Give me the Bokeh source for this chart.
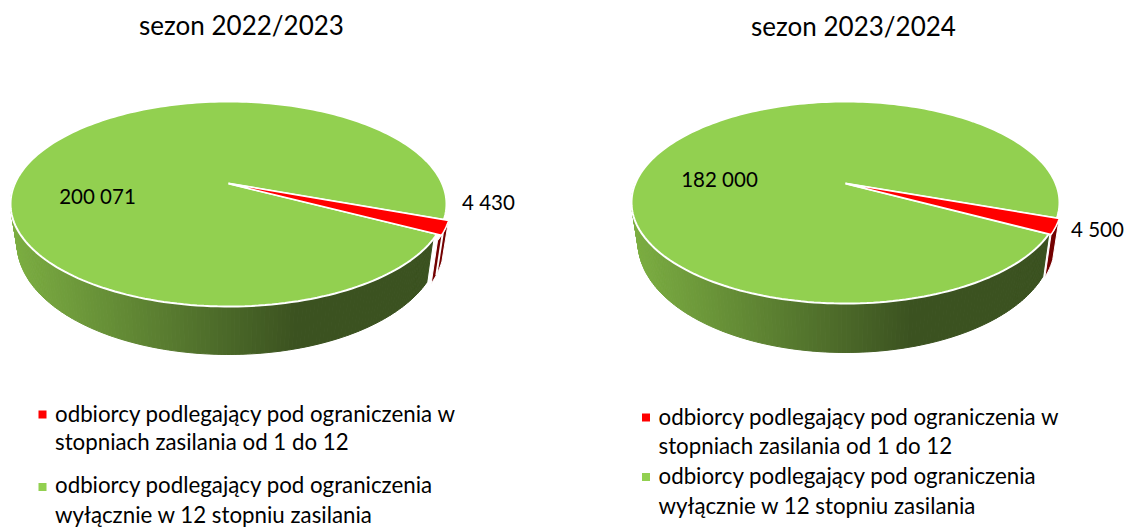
import math
from bokeh.plotting import figure
from bokeh.models import Range1d
from bokeh.core.properties import value
from bokeh.embed import file_html
from bokeh.resources import INLINE

# --- data ---
seasons = ["sezon 2022/2023", "sezon 2023/2024"]
restricted = [4430, 4500]
only_12 = [200071, 182000]
restricted_labels = ["4 430", "4 500"]
only_12_labels = ["200 071", "182 000"]
legend_a = ["odbiorcy podlegający pod ograniczenia w", "stopniach zasilania od 1 do 12"]
legend_b = ["odbiorcy podlegający pod ograniczenia", "wyłącznie w 12 stopniu zasilania"]

# --- styles / layout ---
GREEN, RED, DARK_RED = "#92D050", "#FF0000", "#730000"
FONT = value("Lato")
pies = [
    dict(cx=228, apex=183, left=10, top=101, bottom=306, d_side=37, d_front=48, start=20.0,
         explode=1.02, extra=3.0, split=True, title=(241, 24), big=(97, 195), small=(488, 201),
         mark_x=42, text_x=54.5, rows=[413, 441, 484, 514], marks=[414, 486.5]),
    dict(cx=845, apex=183, left=631, top=101, bottom=303, d_side=37, d_front=49, start=19.5,
         explode=1.01, extra=0.0, split=False, title=(853, 25), big=(719, 178), small=(1097, 228),
         mark_x=645.5, text_x=658, rows=[416, 445, 475, 505], marks=[417, 476.5]),
]

p = figure(width=1131, height=527, x_range=Range1d(0, 1131), y_range=Range1d(527, 0),
           output_backend="svg", toolbar_location=None, min_border=0)
p.axis.visible = False
p.grid.visible = False
p.outline_line_color = None
p.background_fill_color = "white"


def lerp_col(c0, c1, t):
    return "#%02x%02x%02x" % tuple(round(a + (b - a) * t) for a, b in zip(c0, c1))


def add_text(x, y, s, size, align="left"):
    p.text([x], [y], text=[s], text_font=FONT, text_font_size=f"{size}px",
           text_color="#000000", text_baseline="middle", text_align=align)


for i, g in enumerate(pies):
    cx, cy = g["cx"], g["apex"]
    far, near = cy - g["top"], g["bottom"] - cy
    a = (far - near) / (far + near)          # perspective of the disc
    B = far * (1 - a)
    rx = cx - g["left"]
    A = rx * math.sqrt(1 - a * a)

    def top(th, r=1.0):
        u, v = r * math.cos(th), r * math.sin(th)
        w = 1 + a * v
        return cx + A * u / w, cy + B * v / w

    def low(th, r=1.0):
        x, y = top(th, r)
        d = g["d_side"] + (g["d_front"] - g["d_side"]) * max(0.0, math.sin(th))
        return cx + 0.97 * (x - cx), y + d

    total = restricted[i] + only_12[i]
    t0 = math.radians(g["start"])
    t1 = t0 + 2 * math.pi * restricted[i] / total
    t_wall = t1 + math.radians(g["extra"])
    e = g["explode"]

    # green outer wall, shaded across its width
    xs, ys, cols = [], [], []
    n = 160
    c_l, c_d = (124, 174, 66), (59, 82, 32)
    x_dark = g["left"] + 2 * rx * 0.66
    for k in range(n):
        th_a = t_wall + (math.pi - t_wall) * k / n
        th_b = t_wall + (math.pi - t_wall) * (k + 1) / n
        pa, pb, qa, qb = top(th_a), top(th_b), low(th_a), low(th_b)
        xs.append([pa[0], pb[0], qb[0], qa[0]])
        ys.append([pa[1], pb[1], qb[1], qa[1]])
        cols.append(lerp_col(c_l, c_d, min(1, max(0, (pa[0] - g["left"]) / (x_dark - g["left"])))))
    p.patches(xs, ys, fill_color=cols, line_color=cols, line_width=1)

    # red outer wall
    ths = [t0 + (t_wall - t0) * k / 12 for k in range(13)]
    wx = [top(t, e)[0] for t in ths] + [low(t, e)[0] for t in reversed(ths)]
    wy = [top(t, e)[1] for t in ths] + [low(t, e)[1] for t in reversed(ths)]
    p.patch(wx, wy, fill_color=DARK_RED, line_color="white", line_width=1)
    if g["split"]:
        tm = t0 + (t_wall - t0) * 0.62
        p.line([top(tm, e)[0], low(tm, e)[0]], [top(tm, e)[1], low(tm, e)[1]],
               line_color="white", line_width=2)

    # green top slice
    m = 240
    ths = [t1 + (2 * math.pi - (t1 - t0)) * k / m for k in range(m + 1)]
    p.patch([cx] + [top(t)[0] for t in ths], [cy] + [top(t)[1] for t in ths],
            fill_color=GREEN, line_color="white", line_width=2)

    # red top slice
    ths = [t0 + (t1 - t0) * k / 12 for k in range(13)]
    p.patch([cx] + [top(t, e)[0] for t in ths], [cy] + [top(t, e)[1] for t in ths],
            fill_color=RED, line_color="white", line_width=1.5)

    # texts
    add_text(g["title"][0], g["title"][1], seasons[i], 26, "center")
    add_text(g["big"][0], g["big"][1], only_12_labels[i], 20.5, "center")
    add_text(g["small"][0], g["small"][1], restricted_labels[i], 20.5, "center")

    r = g["rows"]
    for s, y in zip(legend_a + legend_b, r):
        add_text(g["text_x"], y, s, 22.3)
    p.rect([g["mark_x"]], [g["marks"][0]], width=8, height=8, fill_color=RED, line_color=None)
    p.rect([g["mark_x"]], [g["marks"][1]], width=8, height=8, fill_color=GREEN, line_color=None)

open("out.html", "w").write(file_html(p, INLINE))
